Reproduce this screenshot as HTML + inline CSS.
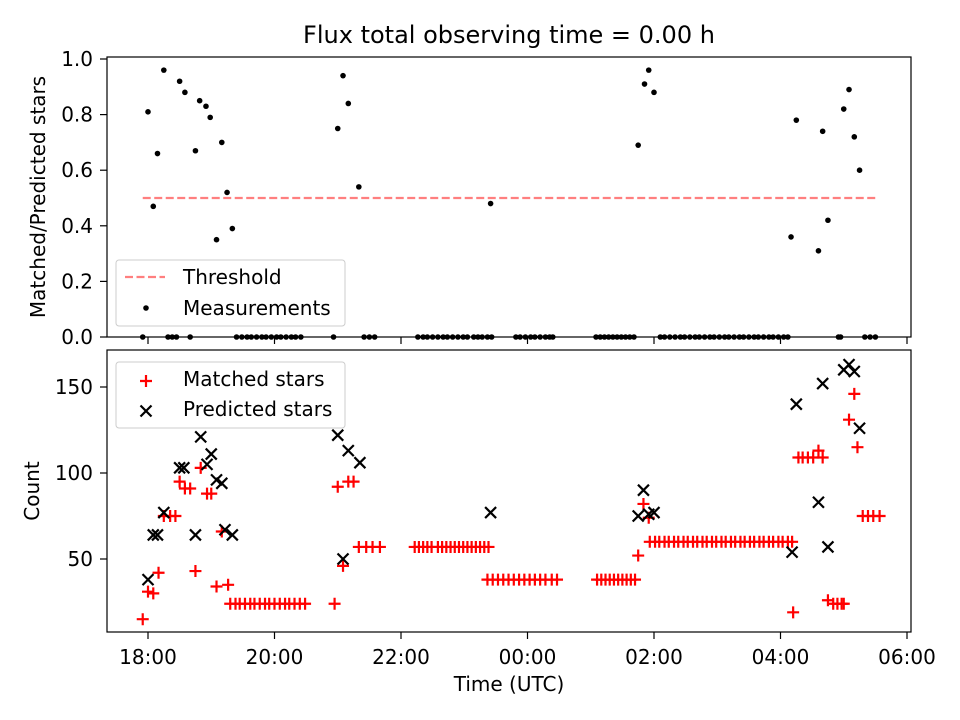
<!DOCTYPE html>
<html><head><meta charset="utf-8"><style>
body{margin:0;background:#fff}
svg{display:block;font-family:"DejaVu Sans","Liberation Sans",sans-serif}
</style></head><body>
<svg id="chart" width="960" height="720" xmlns="http://www.w3.org/2000/svg">
<rect width="960" height="720" fill="#fff"/>
<text x="509" y="43" font-size="24" text-anchor="middle">Flux total observing time = 0.00 h</text>
<g id="topPanel"></g>
<g id="botPanel"></g>
</svg>
<script>
// time in minutes after 18:00 UTC
const ratioTimes=[0,5,9,15,30,35,45,49,55,59,65,70,75,80,180,185,190,200,325,465,471,475,480,610,615,636,640,645,660,665,670,675];
const ratioValues=[.81,.47,.66,.96,.92,.88,.67,.85,.83,.79,.35,.70,.52,.39,.75,.94,.84,.54,.48,.69,.91,.96,.88,.36,.78,.31,.74,.42,.82,.89,.72,.60];
const zeroTimes=[-5,19,23,27,40,84,89,94,98,103,108,112,117,122,126,131,136,140,145,176,205,210,215,256,261,265,270,275,280,284,289,294,299,303,309,313,317,322,326,349,353,358,363,367,372,377,381,384,425,429,433,437,441,445,449,453,457,461,486,490,495,500,505,509,514,519,523,528,533,537,542,547,551,556,561,565,570,575,579,584,589,593,598,603,607,655,657,680,685,690];
const threshold=0.5;
const thresholdRange=[-5,691];
const matchedTimes=[-5,0,5,10,15,21,26,30,35,40,45,50,56,60,65,70,76,78,83,87,92,97,101,106,111,115,120,125,130,134,139,144,149,177,180,185,190,195,200,207,213,220,253,257,261,265,269,275,279,283,287,291,295,299,303,307,311,315,319,323,322,327,332,337,342,347,352,357,362,367,372,377,383,388,426,430,434,438,442,446,450,454,458,462,465,470,475,476,481,485,490,494,499,503,508,512,517,521,526,530,535,539,544,548,553,557,562,566,571,575,580,584,589,593,598,602,607,611,612,617,621,626,631,640,636,645,650,654,658,660,665,670,673,678,683,688,694];
const matchedCounts=[15,31,30,42,75,75,75,95,91,91,43,103,88,88,34,66,35,24,24,24,24,24,24,24,24,24,24,24,24,24,24,24,24,24,92,46,95,95,57,57,57,57,57,57,57,57,57,57,57,57,57,57,57,57,57,57,57,57,57,57,38,38,38,38,38,38,38,38,38,38,38,38,38,38,38,38,38,38,38,38,38,38,38,38,52,82,74,60,60,60,60,60,60,60,60,60,60,60,60,60,60,60,60,60,60,60,60,60,60,60,60,60,60,60,60,60,60,60,19,109,109,109,109,109,113,26,24,24,24,24,131,146,115,75,75,75,75,75];
const predictedTimes=[0,5,9,15,30,34,45,50,56,60,65,70,73,80,180,185,190,201,325,465,470,475,480,611,615,636,640,645,660,665,670,675];
const predictedCounts=[38,64,64,77,103,103,64,121,105,111,96,94,67,64,122,50,113,106,77,75,90,76,77,54,140,83,152,57,160,163,159,126];
const xTickLabels=["18:00","20:00","22:00","00:00","02:00","04:00","06:00"];
const xTickMinutes=[0,120,240,360,480,600,720];
const topTicks=[0,0.2,0.4,0.6,0.8,1.0];
const botTicks=[50,100,150];

const NS="http://www.w3.org/2000/svg";
const X=m=>148+m*63.25/60;
const YT=r=>337-278*r;
const YB=c=>645-1.72*c;
function mk(tag,attrs,parent){const e=document.createElementNS(NS,tag);for(const k in attrs)e.setAttribute(k,attrs[k]);parent.appendChild(e);return e;}
const topG=document.getElementById('topPanel'),botG=document.getElementById('botPanel');
const FS=20;

function frame(g,y0,y1,name){
  const r=mk('rect',{x:107,y:y0,width:804,height:y1-y0,fill:'none',stroke:'#000','stroke-width':1.2},g);
  
  
  xTickMinutes.forEach(m=>{const t=mk('line',{x1:X(m),x2:X(m),y1:y1,y2:y1+7,stroke:'#000','stroke-width':1.2},g);
    
    });
}
frame(topG,57,337,'top');frame(botG,350,632,'bottom');

topTicks.forEach(v=>{mk('line',{x1:100,x2:107,y1:YT(v),y2:YT(v),stroke:'#000','stroke-width':1.2},topG);
  const t=mk('text',{x:93,y:YT(v)+7,'font-size':FS,'text-anchor':'end'},topG);t.textContent=v.toFixed(1);
  
  });
botTicks.forEach(v=>{mk('line',{x1:100,x2:107,y1:YB(v),y2:YB(v),stroke:'#000','stroke-width':1.2},botG);
  const t=mk('text',{x:93,y:YB(v)+7,'font-size':FS,'text-anchor':'end'},botG);t.textContent=v;
  
  });
xTickMinutes.forEach((m,i)=>{const t=mk('text',{x:X(m),y:664,'font-size':FS,'text-anchor':'middle'},botG);t.textContent=xTickLabels[i];
  
  });

let t=mk('text',{x:509,y:691,'font-size':FS,'text-anchor':'middle'},botG);t.textContent='Time (UTC)';


t=mk('text',{x:0,y:0,'font-size':FS,'text-anchor':'middle',transform:'translate(45,197) rotate(-90)'},topG);t.textContent='Matched/Predicted stars';


t=mk('text',{x:0,y:0,'font-size':FS,'text-anchor':'middle',transform:'translate(39,491) rotate(-90)'},botG);t.textContent='Count';



const th=mk('line',{x1:X(thresholdRange[0]),x2:X(thresholdRange[1]),y1:YT(threshold),y2:YT(threshold),stroke:'#ff7f7f','stroke-width':2.2,'stroke-dasharray':'8,3.5'},topG);


function dot(x,y,g){const c=mk('circle',{cx:x,cy:y,r:2.8,fill:'#000'},g);
  
  }
ratioTimes.forEach((m,i)=>dot(X(m),YT(ratioValues[i]),topG));
zeroTimes.forEach(m=>dot(X(m),YT(0),topG));

function plus(x,y,g){const p=mk('path',{d:`M${x-6},${y}H${x+6}M${x},${y-6}V${y+6}`,stroke:'#f00','stroke-width':2.2,fill:'none'},g);
  
  }
function cross(x,y,g){const p=mk('path',{d:`M${x-5.5},${y-5.5}L${x+5.5},${y+5.5}M${x-5.5},${y+5.5}L${x+5.5},${y-5.5}`,stroke:'#000','stroke-width':2.2,fill:'none'},g);
  
  }
matchedTimes.forEach((m,i)=>plus(X(m),YB(matchedCounts[i]),botG));
predictedTimes.forEach((m,i)=>cross(X(m),YB(predictedCounts[i]),botG));

function legend(g,y,h,name){const r=mk('rect',{x:116,y:y,width:229,height:h,rx:3,fill:'#fff','fill-opacity':0.8,stroke:'#ccc'},g);
  
  }
legend(topG,260,66,'top-legend');
const ll=mk('line',{x1:125,x2:165,y1:277,y2:277,stroke:'#ff7f7f','stroke-width':2.2,'stroke-dasharray':'8,3.5'},topG);


t=mk('text',{x:183,y:284,'font-size':FS},topG);t.textContent='Threshold';


dot(146,308,topG);
t=mk('text',{x:183,y:315,'font-size':FS},topG);t.textContent='Measurements';


legend(botG,362,66,'bottom-legend');
plus(146,381,botG);
t=mk('text',{x:183,y:386,'font-size':FS},botG);t.textContent='Matched stars';


cross(146,411,botG);
t=mk('text',{x:183,y:416,'font-size':FS},botG);t.textContent='Predicted stars';


</script>
</body></html>
